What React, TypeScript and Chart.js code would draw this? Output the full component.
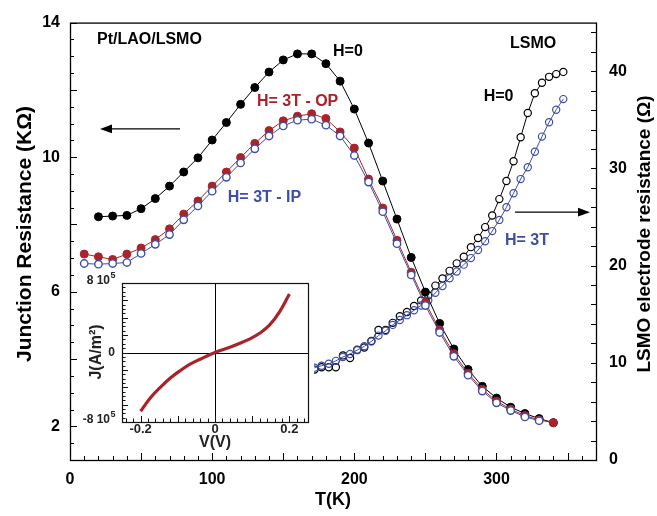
import React, { useEffect, useRef } from 'react';
import { Chart, registerables } from 'chart.js';

Chart.register(...registerables);

// ---------------- data ----------------
// Junction resistance (kOhm), left axis
const T_JUNC_H0 = [20, 30, 40, 50, 60, 70, 80, 90, 100, 110, 120, 130, 140, 150, 160, 170, 180, 190, 200, 210, 220, 230, 240, 250, 260, 270, 280, 290, 300, 310, 320, 330, 340];
const R_JUNC_H0 = [8.23, 8.25, 8.27, 8.47, 8.77, 9.14, 9.56, 9.98, 10.51, 11.03, 11.57, 12.07, 12.53, 12.89, 13.07, 13.07, 12.78, 12.26, 11.43, 10.42, 9.29, 8.16, 7.02, 5.99, 5.06, 4.30, 3.69, 3.19, 2.84, 2.57, 2.38, 2.23, 2.11];

const T_JUNC_OP = [10, 20, 30, 40, 50, 60, 70, 80, 90, 100, 110, 120, 130, 140, 150, 160, 170, 180, 190, 200, 210, 220, 230, 240, 250, 260, 270, 280, 290, 300, 310, 320, 330, 340];
const R_JUNC_OP = [7.12, 7.04, 6.96, 7.12, 7.30, 7.55, 7.87, 8.31, 8.70, 9.14, 9.56, 9.99, 10.41, 10.79, 11.08, 11.22, 11.29, 11.15, 10.75, 10.27, 9.35, 8.49, 7.53, 6.58, 5.68, 4.87, 4.16, 3.58, 3.10, 2.75, 2.51, 2.32, 2.19, 2.11];

const T_JUNC_IP = [10, 20, 30, 40, 50, 60, 70, 80, 90, 100, 110, 120, 130, 140, 150, 160, 170, 180, 190, 200, 210, 220, 230, 240, 250, 260, 270, 280, 290, 300, 310, 320, 330];
const R_JUNC_IP = [6.84, 6.82, 6.84, 6.87, 7.14, 7.41, 7.70, 8.14, 8.55, 8.99, 9.40, 9.83, 10.25, 10.63, 10.93, 11.10, 11.13, 10.95, 10.63, 10.05, 9.26, 8.38, 7.43, 6.50, 5.59, 4.79, 4.08, 3.52, 3.05, 2.70, 2.47, 2.28, 2.17];

// LSMO electrode resistance (Ohm), right axis
const T_LSMO = [172, 177, 182, 187, 192, 197, 202, 207, 212, 217, 222, 227, 232, 237, 242, 247, 252, 257, 262, 267, 272, 277, 282, 287, 292, 297, 302, 307, 312, 317, 322, 327, 332, 337, 342, 347];
const R_LSMO_H0 = [9.3, 9.54, 9.54, 9.54, 10.76, 10.49, 11.34, 11.57, 12.25, 13.37, 13.37, 14.11, 14.79, 15.23, 15.84, 16.42, 16.92, 17.94, 18.68, 19.46, 20.23, 20.91, 21.9, 22.84, 23.96, 25.15, 26.84, 28.7, 30.73, 33.2, 35.7, 37.73, 38.81, 39.42, 39.7, 39.93];
const R_LSMO_3T = [9.5, 9.7, 9.9, 10.2, 10.6, 10.9, 11.3, 11.7, 12.2, 12.8, 13.3, 13.9, 14.4, 14.9, 15.4, 15.9, 16.4, 17.2, 17.9, 18.7, 19.4, 20.1, 20.77, 21.6, 22.5, 23.55, 24.7, 26.0, 27.45, 28.9, 30.12, 31.71, 33.27, 34.75, 36.04, 37.13];

// Inset J(V)
const V_INSET = [-0.2, -0.174, -0.147, -0.12, -0.094, -0.067, -0.04, 0, 0.04, 0.067, 0.094, 0.12, 0.147, 0.174, 0.2];
const J_INSET = [-6.76e5, -5.24e5, -4.01e5, -2.94e5, -2.1e5, -1.34e5, -0.77e5, 0, 0.61e5, 1.07e5, 1.57e5, 2.21e5, 3.17e5, 4.7e5, 6.73e5];

// tick labels
const X_TICKS = [0, 100, 200, 300];
const YL_TICKS = [2, 6, 10, 14];
const YR_TICKS = [0, 10, 20, 30, 40];
const V_TICKS = [-0.2, 0, 0.2];
const J_TICKS = [-8e5, 0, 8e5];

// ---------------- styles ----------------
const FONT = '"Liberation Sans", Arial, Helvetica, sans-serif';
const BLACK = '#000000';
const RED = '#a8232a';
const BLUE = '#3f4fa6';

const pts = (xs: number[], ys: number[]) => xs.map((x, i) => ({ x, y: ys[i] }));

function tickMarks(ctx: CanvasRenderingContext2D, scale: any, lo: number, hi: number, step: number, majorStep: number, majLen: number, minLen: number, side: string, a: any) {
  const n0 = Math.ceil(lo / step - 1e-9);
  const n1 = Math.floor(hi / step + 1e-9);
  ctx.beginPath();
  for (let n = n0; n <= n1; n++) {
    const v = n * step;
    const r = v / majorStep;
    const major = Math.abs(r - Math.round(r)) < 1e-6;
    const len = major ? majLen : minLen;
    const p = Math.round(scale.getPixelForValue(v)) + 0.5;
    if (side === 'bottom') {
      ctx.moveTo(p, a.bottom);
      ctx.lineTo(p, a.bottom - len);
    } else if (side === 'left') {
      ctx.moveTo(a.left, p);
      ctx.lineTo(a.left + len, p);
    } else {
      ctx.moveTo(a.right, p);
      ctx.lineTo(a.right - len, p);
    }
  }
  ctx.stroke();
}

function arrow(ctx: CanvasRenderingContext2D, x1: number, x2: number, y: number) {
  const dir = x2 > x1 ? 1 : -1;
  const head = 12;
  ctx.beginPath();
  ctx.moveTo(x1, y);
  ctx.lineTo(x2 - dir * head, y);
  ctx.stroke();
  ctx.beginPath();
  ctx.moveTo(x2, y);
  ctx.lineTo(x2 - dir * head, y - 4.3);
  ctx.lineTo(x2 - dir * head, y + 4.3);
  ctx.closePath();
  ctx.fill();
}

const LABELS = [
  { text: 'Pt/LAO/LSMO', t: 19, r: 13.5, axis: 'y', color: BLACK },
  { text: 'H=0', t: 185, r: 13.15, axis: 'y', color: BLACK },
  { text: 'H= 3T - OP', t: 131.5, r: 11.64, axis: 'y', color: RED },
  { text: 'H= 3T - IP', t: 111, r: 8.79, axis: 'y', color: BLUE },
  { text: 'LSMO', t: 309.5, r: 42.8, axis: 'y2', color: BLACK },
  { text: 'H=0', t: 291, r: 37.4, axis: 'y2', color: BLACK },
  { text: 'H= 3T', t: 306, r: 22.6, axis: 'y2', color: BLUE },
];

const mainDeco = {
  id: 'mainDeco',
  afterDraw(chart: any) {
    const { ctx, chartArea: a, scales } = chart;
    const xs = scales.x, yl = scales.y, yr = scales.y2;
    ctx.save();
    ctx.strokeStyle = BLACK;
    ctx.fillStyle = BLACK;
    ctx.lineWidth = 1.3;
    ctx.strokeRect(a.left + 0.5, a.top + 0.5, a.right - a.left, a.bottom - a.top);
    ctx.lineWidth = 1;
    tickMarks(ctx, xs, 0, 370, 10, 50, 7, 4, 'bottom', a);
    tickMarks(ctx, yl, 1, 14, 0.5, 2, 7, 4, 'left', a);
    tickMarks(ctx, yr, 0, 45, 2, 10, 5, 5, 'right', a);

    // arrows
    ctx.lineWidth = 1.3;
    const yA = yl.getPixelForValue(10.84);
    arrow(ctx, xs.getPixelForValue(77.4), xs.getPixelForValue(21.1), yA);
    const yB = yr.getPixelForValue(25.5);
    arrow(ctx, xs.getPixelForValue(313), xs.getPixelForValue(365.8), yB);

    // annotation labels
    ctx.font = `bold 16px ${FONT}`;
    ctx.textAlign = 'left';
    ctx.textBaseline = 'middle';
    for (const l of LABELS) {
      ctx.fillStyle = l.color;
      const sy = l.axis === 'y' ? yl : yr;
      ctx.fillText(l.text, xs.getPixelForValue(l.t), sy.getPixelForValue(l.r));
    }

    // axis titles
    ctx.fillStyle = BLACK;
    ctx.textAlign = 'center';
    ctx.font = `bold 18px ${FONT}`;
    ctx.fillText('T(K)', (a.left + a.right) / 2, 500);
    ctx.save();
    ctx.translate(25, 234);
    ctx.rotate(-Math.PI / 2);
    ctx.font = `bold 21px ${FONT}`;
    ctx.fillText('Junction Resistance (K\u03A9)', 0, 0);
    ctx.restore();
    ctx.save();
    ctx.translate(645, 234);
    ctx.rotate(-Math.PI / 2);
    ctx.font = `bold 19px ${FONT}`;
    ctx.fillText('LSMO electrode resistance (\u03A9)', 0, 0);
    ctx.restore();
    ctx.restore();
  },
};

const insetDeco = {
  id: 'insetDeco',
  beforeDatasetsDraw(chart: any) {
    const { ctx, chartArea: a, scales } = chart;
    ctx.save();
    ctx.strokeStyle = BLACK;
    ctx.lineWidth = 1;
    const x0 = Math.round(scales.x.getPixelForValue(0)) + 0.5;
    const y0 = Math.round(scales.y.getPixelForValue(0)) + 0.5;
    ctx.beginPath();
    ctx.moveTo(x0, a.top);
    ctx.lineTo(x0, a.bottom);
    ctx.moveTo(a.left, y0);
    ctx.lineTo(a.right, y0);
    ctx.stroke();
    ctx.restore();
  },
  afterDraw(chart: any) {
    const { ctx, chartArea: a, scales } = chart;
    const xs = scales.x, ys = scales.y;
    ctx.save();
    ctx.strokeStyle = '#111';
    ctx.lineWidth = 1.2;
    ctx.strokeRect(a.left + 0.5, a.top + 0.5, a.right - a.left, a.bottom - a.top);
    ctx.lineWidth = 1;
    tickMarks(ctx, xs, -0.25, 0.25, 0.02, 0.1, 6, 3.5, 'bottom', a);
    tickMarks(ctx, ys, -8e5, 8e5, 0.5e5, 2e5, 6, 3.5, 'left', a);

    // y tick labels with superscript exponent
    ctx.fillStyle = '#222';
    ctx.textBaseline = 'middle';
    ctx.textAlign = 'left';
    const right = a.left - 7;
    for (const v of J_TICKS) {
      const y = ys.getPixelForValue(v) - (v === 0 ? 0 : 2.5);
      if (v === 0) {
        ctx.font = `bold 12px ${FONT}`;
        const w = ctx.measureText('0').width;
        ctx.fillText('0', right - w, y);
      } else {
        const base = `${v / 1e5} 10`;
        ctx.font = `bold 12px ${FONT}`;
        const bw = ctx.measureText(base).width;
        ctx.font = `bold 9px ${FONT}`;
        const sw = ctx.measureText('5').width;
        const x = right - bw - sw;
        ctx.font = `bold 12px ${FONT}`;
        ctx.fillText(base, x, y);
        ctx.font = `bold 9px ${FONT}`;
        ctx.fillText('5', x + bw + 0.5, y - 5);
      }
    }
    // titles
    ctx.textAlign = 'center';
    ctx.font = `bold 16px ${FONT}`;
    ctx.fillText('V(V)', (a.left + a.right) / 2, 171);
    ctx.save();
    ctx.translate(19, 80);
    ctx.rotate(-Math.PI / 2);
    ctx.font = `bold 16px ${FONT}`;
    ctx.fillText('J(A/m\u00B2)', 0, 0);
    ctx.restore();
    ctx.restore();
  },
};

const tickFont = { family: FONT, size: 16, weight: 'bold' as const };

export default function App() {
  const mainRef = useRef<HTMLCanvasElement>(null);
  const insetRef = useRef<HTMLCanvasElement>(null);

  useEffect(() => {
    const main = new Chart(mainRef.current as HTMLCanvasElement, {
      type: 'line',
      data: {
        datasets: [
          {
            label: 'H=0 junction', data: pts(T_JUNC_H0, R_JUNC_H0), yAxisID: 'y', order: 3,
            borderColor: BLACK, borderWidth: 1, pointRadius: 4, pointBorderWidth: 1,
            pointBackgroundColor: BLACK, pointBorderColor: BLACK, tension: 0,
          },
          {
            label: 'H=3T OP junction', data: pts(T_JUNC_OP, R_JUNC_OP), yAxisID: 'y', order: 2,
            borderColor: RED, borderWidth: 1, pointRadius: 4, pointBorderWidth: 1,
            pointBackgroundColor: RED, pointBorderColor: RED, tension: 0,
          },
          {
            label: 'H=3T IP junction', data: pts(T_JUNC_IP, R_JUNC_IP), yAxisID: 'y', order: 1,
            borderColor: BLUE, borderWidth: 1, pointRadius: 3.7, pointBorderWidth: 1.4,
            pointBackgroundColor: '#ffffff', pointBorderColor: BLUE, tension: 0,
          },
          {
            label: 'H=0 LSMO', data: pts(T_LSMO, R_LSMO_H0), yAxisID: 'y2', order: 5,
            borderColor: BLACK, borderWidth: 1, pointRadius: 3.6, pointBorderWidth: 1.2,
            pointBackgroundColor: '#ffffff', pointBorderColor: BLACK, tension: 0,
          },
          {
            label: 'H=3T LSMO', data: pts(T_LSMO, R_LSMO_3T), yAxisID: 'y2', order: 4,
            borderColor: BLUE, borderWidth: 1, pointRadius: 3.6, pointBorderWidth: 1.2,
            pointBackgroundColor: 'rgba(0,0,0,0)', pointBorderColor: BLUE, tension: 0,
          },
        ],
      },
      options: {
        responsive: false,
        animation: false,
        events: [],
        devicePixelRatio: 1,
        layout: { padding: { top: 16, left: 0, right: 0, bottom: 0 } },
        plugins: { legend: { display: false }, tooltip: { enabled: false } },
        scales: {
          x: {
            type: 'linear', min: 0, max: 370,
            afterBuildTicks: (s: any) => { s.ticks = X_TICKS.map((v) => ({ value: v })); },
            afterFit: (s: any) => { s.height = 56; },
            grid: { display: false, drawTicks: false },
            border: { display: false },
            ticks: { font: tickFont, color: BLACK, padding: 10, maxRotation: 0, autoSkip: false },
          },
          y: {
            type: 'linear', position: 'left', min: 1, max: 14,
            afterBuildTicks: (s: any) => { s.ticks = YL_TICKS.map((v) => ({ value: v })); },
            afterFit: (s: any) => { s.width = 70; },
            grid: { display: false, drawTicks: false },
            border: { display: false },
            ticks: { font: tickFont, color: BLACK, padding: 10, autoSkip: false },
          },
          y2: {
            type: 'linear', position: 'right', min: 0, max: 45,
            afterBuildTicks: (s: any) => { s.ticks = YR_TICKS.map((v) => ({ value: v })); },
            afterFit: (s: any) => { s.width = 61; },
            grid: { display: false, drawTicks: false },
            border: { display: false },
            ticks: { font: tickFont, color: BLACK, padding: 13, autoSkip: false },
          },
        },
      } as any,
      plugins: [mainDeco],
    });

    const inset = new Chart(insetRef.current as HTMLCanvasElement, {
      type: 'line',
      data: {
        datasets: [
          {
            label: 'J(V)', data: pts(V_INSET, J_INSET),
            borderColor: RED, borderWidth: 3.2, pointRadius: 0, tension: 0.4,
          },
        ],
      },
      options: {
        responsive: false,
        animation: false,
        events: [],
        devicePixelRatio: 1,
        layout: { padding: { top: 11, left: 0, right: 6, bottom: 0 } },
        plugins: { legend: { display: false }, tooltip: { enabled: false } },
        scales: {
          x: {
            type: 'linear', min: -0.25, max: 0.25,
            afterBuildTicks: (s: any) => { s.ticks = V_TICKS.map((v) => ({ value: v })); },
            afterFit: (s: any) => { s.height = 30; },
            grid: { display: false, drawTicks: false },
            border: { display: false },
            ticks: {
              font: { family: FONT, size: 13, weight: 'bold' }, color: '#222', padding: 0,
              maxRotation: 0, autoSkip: false,
              callback: (v: any) => (v === 0 ? '0' : String(v)),
            },
          },
          y: {
            type: 'linear', min: -8e5, max: 8e5,
            afterBuildTicks: (s: any) => { s.ticks = J_TICKS.map((v) => ({ value: v })); },
            afterFit: (s: any) => { s.width = 44; },
            grid: { display: false, drawTicks: false },
            border: { display: false },
            ticks: { display: false },
          },
        },
      } as any,
      plugins: [insetDeco],
    });

    return () => {
      main.destroy();
      inset.destroy();
    };
  }, []);

  return (
    <div style={{ position: 'absolute', left: 0, top: 0, width: 657, height: 516, background: '#ffffff' }}>
      <canvas ref={mainRef} width={657} height={516} style={{ position: 'absolute', left: 0, top: 0, width: 657, height: 516 }} />
      <canvas ref={insetRef} width={236} height={180} style={{ position: 'absolute', left: 78, top: 272, width: 236, height: 180, background: '#ffffff' }} />
    </div>
  );
}
